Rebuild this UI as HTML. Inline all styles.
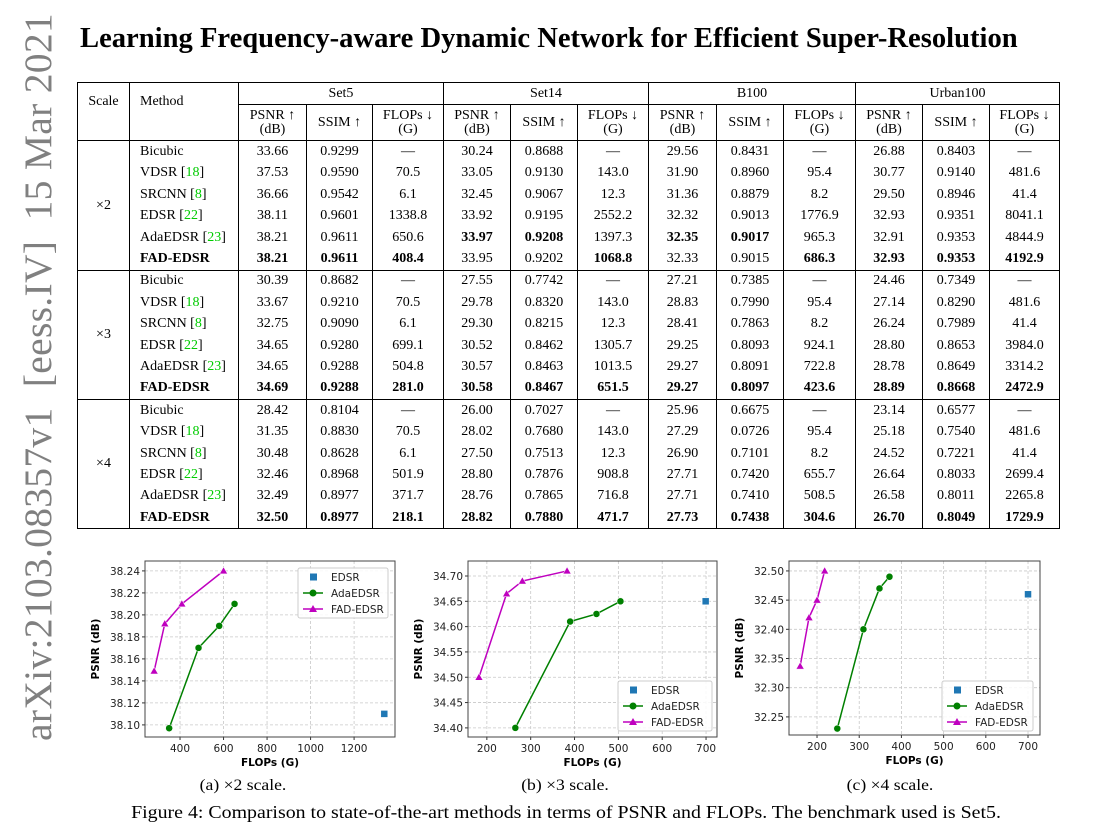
<!DOCTYPE html>
<html><head><meta charset="utf-8">
<style>
body{margin:0;width:1100px;height:830px;background:#fff;position:relative;overflow:hidden;font-family:"Liberation Serif",serif;}
#side{position:absolute;left:38px;top:377px;transform:translate(-50%,-50%) rotate(-90deg);white-space:nowrap;font-size:39.5px;color:#808080;letter-spacing:0.3px}
#title{position:absolute;left:80px;top:23px;font-size:28.6px;font-weight:bold;white-space:nowrap}
table{position:absolute;left:77px;top:82px;border-collapse:collapse;font-size:14px;table-layout:fixed}
td{border-left:1px solid #000;border-right:1px solid #000;text-align:center;padding:0;height:21.4px;line-height:14px}
td.m{text-align:left;padding-left:10px}
tr.h td{border:1px solid #000}
tr.gt td{border-top:1px solid #000}
table{border:1px solid #000}
.b{font-weight:bold}
.g{color:#00cc00}
.cap{position:absolute;font-size:16px;white-space:nowrap;transform:translateX(-50%) scaleX(1.1)}
svg{position:absolute;left:0;top:0}
</style></head><body>
<div id="side">arXiv:2103.08357v1&nbsp; [eess.IV]&nbsp; 15 Mar 2021</div>
<div id="title">Learning Frequency-aware Dynamic Network for Efficient Super-Resolution</div>
<table>
<colgroup><col style="width:52px"><col style="width:109px"><col style="width:68px"><col style="width:66px"><col style="width:71px"><col style="width:67px"><col style="width:67px"><col style="width:71px"><col style="width:68px"><col style="width:67px"><col style="width:72px"><col style="width:67px"><col style="width:67px"><col style="width:70px"></colgroup>
<tr class="h"><td rowspan="2" style="vertical-align:top;padding-top:12px">Scale</td><td rowspan="2" class="m" style="vertical-align:top;padding-top:12px">Method</td><td colspan="3" style="height:20px">Set5</td><td colspan="3">Set14</td><td colspan="3">B100</td><td colspan="3">Urban100</td></tr>
<tr class="h" style="height:36px"><td>PSNR ↑<br>(dB)</td><td>SSIM ↑</td><td>FLOPs ↓<br>(G)</td><td>PSNR ↑<br>(dB)</td><td>SSIM ↑</td><td>FLOPs ↓<br>(G)</td><td>PSNR ↑<br>(dB)</td><td>SSIM ↑</td><td>FLOPs ↓<br>(G)</td><td>PSNR ↑<br>(dB)</td><td>SSIM ↑</td><td>FLOPs ↓<br>(G)</td></tr>
<tr class="gt"><td rowspan="6">×2</td><td class="m">Bicubic</td><td>33.66</td><td>0.9299</td><td>—</td><td>30.24</td><td>0.8688</td><td>—</td><td>29.56</td><td>0.8431</td><td>—</td><td>26.88</td><td>0.8403</td><td>—</td></tr>
<tr><td class="m">VDSR [<span class="g">18</span>]</td><td>37.53</td><td>0.9590</td><td>70.5</td><td>33.05</td><td>0.9130</td><td>143.0</td><td>31.90</td><td>0.8960</td><td>95.4</td><td>30.77</td><td>0.9140</td><td>481.6</td></tr>
<tr><td class="m">SRCNN [<span class="g">8</span>]</td><td>36.66</td><td>0.9542</td><td>6.1</td><td>32.45</td><td>0.9067</td><td>12.3</td><td>31.36</td><td>0.8879</td><td>8.2</td><td>29.50</td><td>0.8946</td><td>41.4</td></tr>
<tr><td class="m">EDSR [<span class="g">22</span>]</td><td>38.11</td><td>0.9601</td><td>1338.8</td><td>33.92</td><td>0.9195</td><td>2552.2</td><td>32.32</td><td>0.9013</td><td>1776.9</td><td>32.93</td><td>0.9351</td><td>8041.1</td></tr>
<tr><td class="m">AdaEDSR [<span class="g">23</span>]</td><td>38.21</td><td>0.9611</td><td>650.6</td><td class="b">33.97</td><td class="b">0.9208</td><td>1397.3</td><td class="b">32.35</td><td class="b">0.9017</td><td>965.3</td><td>32.91</td><td>0.9353</td><td>4844.9</td></tr>
<tr class="b"><td class="m">FAD-EDSR</td><td>38.21</td><td>0.9611</td><td>408.4</td><td style="font-weight:normal">33.95</td><td style="font-weight:normal">0.9202</td><td>1068.8</td><td style="font-weight:normal">32.33</td><td style="font-weight:normal">0.9015</td><td>686.3</td><td>32.93</td><td>0.9353</td><td>4192.9</td></tr>
<tr class="gt"><td rowspan="6">×3</td><td class="m">Bicubic</td><td>30.39</td><td>0.8682</td><td>—</td><td>27.55</td><td>0.7742</td><td>—</td><td>27.21</td><td>0.7385</td><td>—</td><td>24.46</td><td>0.7349</td><td>—</td></tr>
<tr><td class="m">VDSR [<span class="g">18</span>]</td><td>33.67</td><td>0.9210</td><td>70.5</td><td>29.78</td><td>0.8320</td><td>143.0</td><td>28.83</td><td>0.7990</td><td>95.4</td><td>27.14</td><td>0.8290</td><td>481.6</td></tr>
<tr><td class="m">SRCNN [<span class="g">8</span>]</td><td>32.75</td><td>0.9090</td><td>6.1</td><td>29.30</td><td>0.8215</td><td>12.3</td><td>28.41</td><td>0.7863</td><td>8.2</td><td>26.24</td><td>0.7989</td><td>41.4</td></tr>
<tr><td class="m">EDSR [<span class="g">22</span>]</td><td>34.65</td><td>0.9280</td><td>699.1</td><td>30.52</td><td>0.8462</td><td>1305.7</td><td>29.25</td><td>0.8093</td><td>924.1</td><td>28.80</td><td>0.8653</td><td>3984.0</td></tr>
<tr><td class="m">AdaEDSR [<span class="g">23</span>]</td><td>34.65</td><td>0.9288</td><td>504.8</td><td>30.57</td><td>0.8463</td><td>1013.5</td><td>29.27</td><td>0.8091</td><td>722.8</td><td>28.78</td><td>0.8649</td><td>3314.2</td></tr>
<tr class="b"><td class="m">FAD-EDSR</td><td>34.69</td><td>0.9288</td><td>281.0</td><td>30.58</td><td>0.8467</td><td>651.5</td><td>29.27</td><td>0.8097</td><td>423.6</td><td>28.89</td><td>0.8668</td><td>2472.9</td></tr>
<tr class="gt"><td rowspan="6">×4</td><td class="m">Bicubic</td><td>28.42</td><td>0.8104</td><td>—</td><td>26.00</td><td>0.7027</td><td>—</td><td>25.96</td><td>0.6675</td><td>—</td><td>23.14</td><td>0.6577</td><td>—</td></tr>
<tr><td class="m">VDSR [<span class="g">18</span>]</td><td>31.35</td><td>0.8830</td><td>70.5</td><td>28.02</td><td>0.7680</td><td>143.0</td><td>27.29</td><td>0.0726</td><td>95.4</td><td>25.18</td><td>0.7540</td><td>481.6</td></tr>
<tr><td class="m">SRCNN [<span class="g">8</span>]</td><td>30.48</td><td>0.8628</td><td>6.1</td><td>27.50</td><td>0.7513</td><td>12.3</td><td>26.90</td><td>0.7101</td><td>8.2</td><td>24.52</td><td>0.7221</td><td>41.4</td></tr>
<tr><td class="m">EDSR [<span class="g">22</span>]</td><td>32.46</td><td>0.8968</td><td>501.9</td><td>28.80</td><td>0.7876</td><td>908.8</td><td>27.71</td><td>0.7420</td><td>655.7</td><td>26.64</td><td>0.8033</td><td>2699.4</td></tr>
<tr><td class="m">AdaEDSR [<span class="g">23</span>]</td><td>32.49</td><td>0.8977</td><td>371.7</td><td>28.76</td><td>0.7865</td><td>716.8</td><td>27.71</td><td>0.7410</td><td>508.5</td><td>26.58</td><td>0.8011</td><td>2265.8</td></tr>
<tr class="b"><td class="m">FAD-EDSR</td><td>32.50</td><td>0.8977</td><td>218.1</td><td>28.82</td><td>0.7880</td><td>471.7</td><td>27.73</td><td>0.7438</td><td>304.6</td><td>26.70</td><td>0.8049</td><td>1729.9</td></tr>
</table>

<svg id="charts" width="1100" height="830"></svg>
<div class="cap" style="left:243px;top:777px">(a) ×2 scale.</div>
<div class="cap" style="left:565px;top:777px">(b) ×3 scale.</div>
<div class="cap" style="left:890px;top:777px">(c) ×4 scale.</div>
<div class="cap" style="left:566px;top:802px;font-size:17.5px;transform:translateX(-50%) scaleX(1.136)">Figure 4: Comparison to state-of-the-art methods in terms of PSNR and FLOPs. The benchmark used is Set5.</div>

<script>
// Chart (a) x2
const a_edsrFlops=[1338.8], a_edsrPsnr=[38.11];
const a_adaFlops=[350,485,580,650.6], a_adaPsnr=[38.097,38.17,38.19,38.21];
const a_fadFlops=[281,330,408.4,600], a_fadPsnr=[38.149,38.192,38.21,38.24];
const a_xTicks=[400,600,800,1000,1200], a_yTicks=[38.10,38.12,38.14,38.16,38.18,38.20,38.22,38.24];
// Chart (b) x3
const b_edsrFlops=[699.1], b_edsrPsnr=[34.65];
const b_adaFlops=[265,390,450,504.8], b_adaPsnr=[34.40,34.61,34.625,34.65];
const b_fadFlops=[182,245,281,383], b_fadPsnr=[34.50,34.665,34.69,34.71];
const b_xTicks=[200,300,400,500,600,700], b_yTicks=[34.40,34.45,34.50,34.55,34.60,34.65,34.70];
// Chart (c) x4
const c_edsrFlops=[700], c_edsrPsnr=[32.46];
const c_adaFlops=[248,310,348,371.7], c_adaPsnr=[32.23,32.40,32.47,32.49];
const c_fadFlops=[160,181,200,218.1], c_fadPsnr=[32.337,32.42,32.45,32.50];
const c_xTicks=[200,300,400,500,600,700], c_yTicks=[32.25,32.30,32.35,32.40,32.45,32.50];

const NS='http://www.w3.org/2000/svg';
const svg=document.getElementById('charts');
function mk(tag,attrs,parent,text){const e=document.createElementNS(NS,tag);for(const k in attrs)e.setAttribute(k,attrs[k]);if(text!==undefined)e.textContent=text;(parent||svg).appendChild(e);return e;}

function chart(id,box,xd,yd,xt,yt,ydec,edsr,ada,fad,leg){
  const g=mk('g',{});
  
  
  const [L,T,R,B]=box;
  const sx=v=>L+(v-xd[0])/(xd[1]-xd[0])*(R-L);
  const sy=v=>B-(v-yd[0])/(yd[1]-yd[0])*(B-T);
  xt.forEach(v=>{const x=sx(v);
    const l=mk('line',{x1:x,x2:x,y1:T,y2:B,stroke:'#c8c8c8','stroke-dasharray':'3,2','stroke-width':0.8},g);
    
    mk('line',{x1:x,x2:x,y1:B,y2:B+3,stroke:'#333'},g);
    const t=mk('text',{x:x,y:B+15,'text-anchor':'middle','font-size':10.5,'font-family':'DejaVu Sans, sans-serif',fill:'#222'},g,String(v));
    
  });
  yt.forEach(v=>{const y=sy(v);
    const l=mk('line',{x1:L,x2:R,y1:y,y2:y,stroke:'#c8c8c8','stroke-dasharray':'3,2','stroke-width':0.8},g);
    
    mk('line',{x1:L-3,x2:L,y1:y,y2:y,stroke:'#333'},g);
    const t=mk('text',{x:L-5,y:y+4,'text-anchor':'end','font-size':10.5,'font-family':'DejaVu Sans, sans-serif',fill:'#222'},g,v.toFixed(ydec));
    
  });
  const fr=mk('rect',{x:L,y:T,width:R-L,height:B-T,fill:'none',stroke:'#444','stroke-width':1},g);
  
  const xl=mk('text',{x:(L+R)/2,y:B+29,'text-anchor':'middle','font-size':10.5,'font-weight':'bold','font-family':'DejaVu Sans, sans-serif'},g,'FLOPs (G)');
  
  const yx=L-46,yy=(T+B)/2;
  const yl=mk('text',{x:yx,y:yy,'text-anchor':'middle','font-size':10.5,'font-weight':'bold','font-family':'DejaVu Sans, sans-serif',transform:`rotate(-90 ${yx} ${yy})`},g,'PSNR (dB)');
  
  const ap=ada[0].map((v,i)=>sx(v)+','+sy(ada[1][i])).join(' ');
  const al=mk('polyline',{points:ap,fill:'none',stroke:'#008000','stroke-width':1.5},g);
  
  ada[0].forEach((v,i)=>{const c=mk('circle',{cx:sx(v),cy:sy(ada[1][i]),r:3.5,fill:'#008000',stroke:'#fff','stroke-width':0.5},g);
    });
  const fp=fad[0].map((v,i)=>sx(v)+','+sy(fad[1][i])).join(' ');
  const fl=mk('polyline',{points:fp,fill:'none',stroke:'#bf00bf','stroke-width':1.5},g);
  
  fad[0].forEach((v,i)=>{const x=sx(v),y=sy(fad[1][i]);
    const p=mk('polygon',{points:`${x},${y-4} ${x-4},${y+3} ${x+4},${y+3}`,fill:'#bf00bf',stroke:'#fff','stroke-width':0.5},g);
    });
  edsr[0].forEach((v,i)=>{const x=sx(v),y=sy(edsr[1][i]);
    const r=mk('rect',{x:x-3.5,y:y-3.5,width:7,height:7,fill:'#1f77b4',stroke:'#fff','stroke-width':0.5},g);
    });
  const [lx,ly,lw,lh]=leg;
  const lg=mk('g',{},g);
  
  mk('rect',{x:lx,y:ly,width:lw,height:lh,rx:2,fill:'#fff','fill-opacity':0.85,stroke:'#ccc'},lg);
  const names=['EDSR','AdaEDSR','FAD-EDSR'];
  names.forEach((n,i)=>{const y=ly+9+i*16;
    if(i==1){mk('line',{x1:lx+5,x2:lx+25,y1:y,y2:y,stroke:'#008000','stroke-width':1.5},lg);mk('circle',{cx:lx+15,cy:y,r:3.5,fill:'#008000'},lg);}
    if(i==2){mk('line',{x1:lx+5,x2:lx+25,y1:y,y2:y,stroke:'#bf00bf','stroke-width':1.5},lg);mk('polygon',{points:`${lx+15},${y-4} ${lx+11},${y+3} ${lx+19},${y+3}`,fill:'#bf00bf'},lg);}
    if(i==0){mk('rect',{x:lx+12,y:y-3.5,width:7,height:7,fill:'#1f77b4'},lg);}
    const t=mk('text',{x:lx+33,y:y+4,'font-size':10.5,'font-family':'DejaVu Sans, sans-serif',fill:'#222'},lg,n);
    
  });
}
chart('a',[145,561,395,737],[239,1388],[38.089,38.249],a_xTicks,a_yTicks,2,[a_edsrFlops,a_edsrPsnr],[a_adaFlops,a_adaPsnr],[a_fadFlops,a_fadPsnr],[298,568,90,50]);
chart('b',[468,561,717,737],[157,725],[34.382,34.7296],b_xTicks,b_yTicks,2,[b_edsrFlops,b_edsrPsnr],[b_adaFlops,b_adaPsnr],[b_fadFlops,b_fadPsnr],[618,681,94,50]);
chart('c',[789,561,1040,735],[133.6,728.4],[32.219,32.517],c_xTicks,c_yTicks,2,[c_edsrFlops,c_edsrPsnr],[c_adaFlops,c_adaPsnr],[c_fadFlops,c_fadPsnr],[942,681,91,50]);
</script>
</body></html>
